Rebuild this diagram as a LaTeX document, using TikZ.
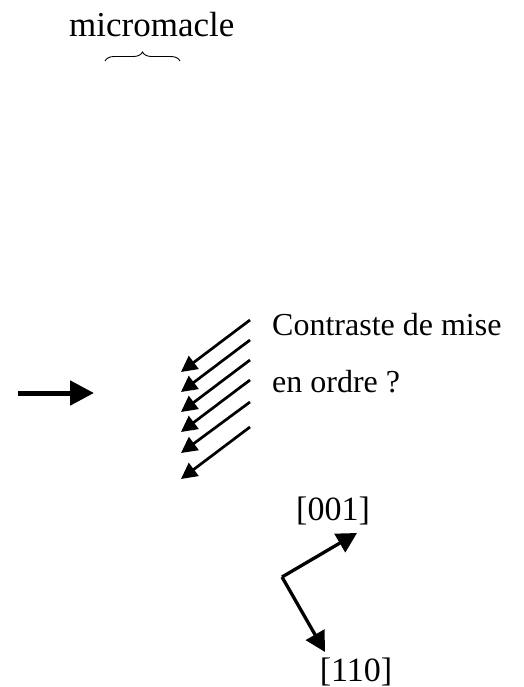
\documentclass[tikz,border=0pt]{standalone}
\usepackage{fontspec}
\setmainfont{Liberation Serif}
\usetikzlibrary{arrows.meta,decorations.pathreplacing}
\begin{document}
\begin{tikzpicture}[x=1pt,y=-1pt,
  lbl/.style={inner sep=0pt,font=\fontsize{32}{38}\selectfont},
  diag/.style={line width=2.7pt,-{Triangle[length=16pt,width=16pt]}},
  axis/.style={line width=3.3pt,-{Triangle[length=20pt,width=21pt]}},
  big/.style={line width=5pt,-{Triangle[length=24pt,width=24pt]}}]
\useasboundingbox (0,0) rectangle (523,687);
% title
\node[lbl,font=\fontsize{35}{40}\selectfont,anchor=base west] (title) at (69,37) {micromacle};
\coordinate (bl) at (105,61);
\coordinate (br) at (180,61);
\draw[line width=0.9pt,decorate,decoration={brace,amplitude=9pt}] (bl) -- (br);
% big arrow
\coordinate (ba) at (18,393);
\coordinate (bb) at (94,393);
\draw[big] (ba) -- (bb);
% diagonal arrows
\foreach \i/\sy/\ty in {1/320/372,2/340/392,3/360/412,4/380/432,5/402/453,6/427/479}{
  \coordinate (s\i) at (250,\sy);
  \coordinate (t\i) at (181,\ty);
  \draw[diag] (s\i) -- (t\i);
}
% text
\node[lbl,anchor=base west] (c1) at (272,335) {Contraste de mise};
\node[lbl,anchor=base west] (c2) at (272,392) {en ordre ?};
% axes
\coordinate (o) at (282,577);
\coordinate (a1) at (357,533);
\coordinate (a2) at (325,652);
\draw[axis] (o) -- (a1);
\draw[axis] (o) -- (a2);
\node[lbl,font=\fontsize{34}{40}\selectfont,anchor=base] (n001) at (333,520) {[001]};
\node[lbl,font=\fontsize{34}{40}\selectfont,anchor=base] (n110) at (356,681) {[110]};
\end{tikzpicture}
\end{document}
